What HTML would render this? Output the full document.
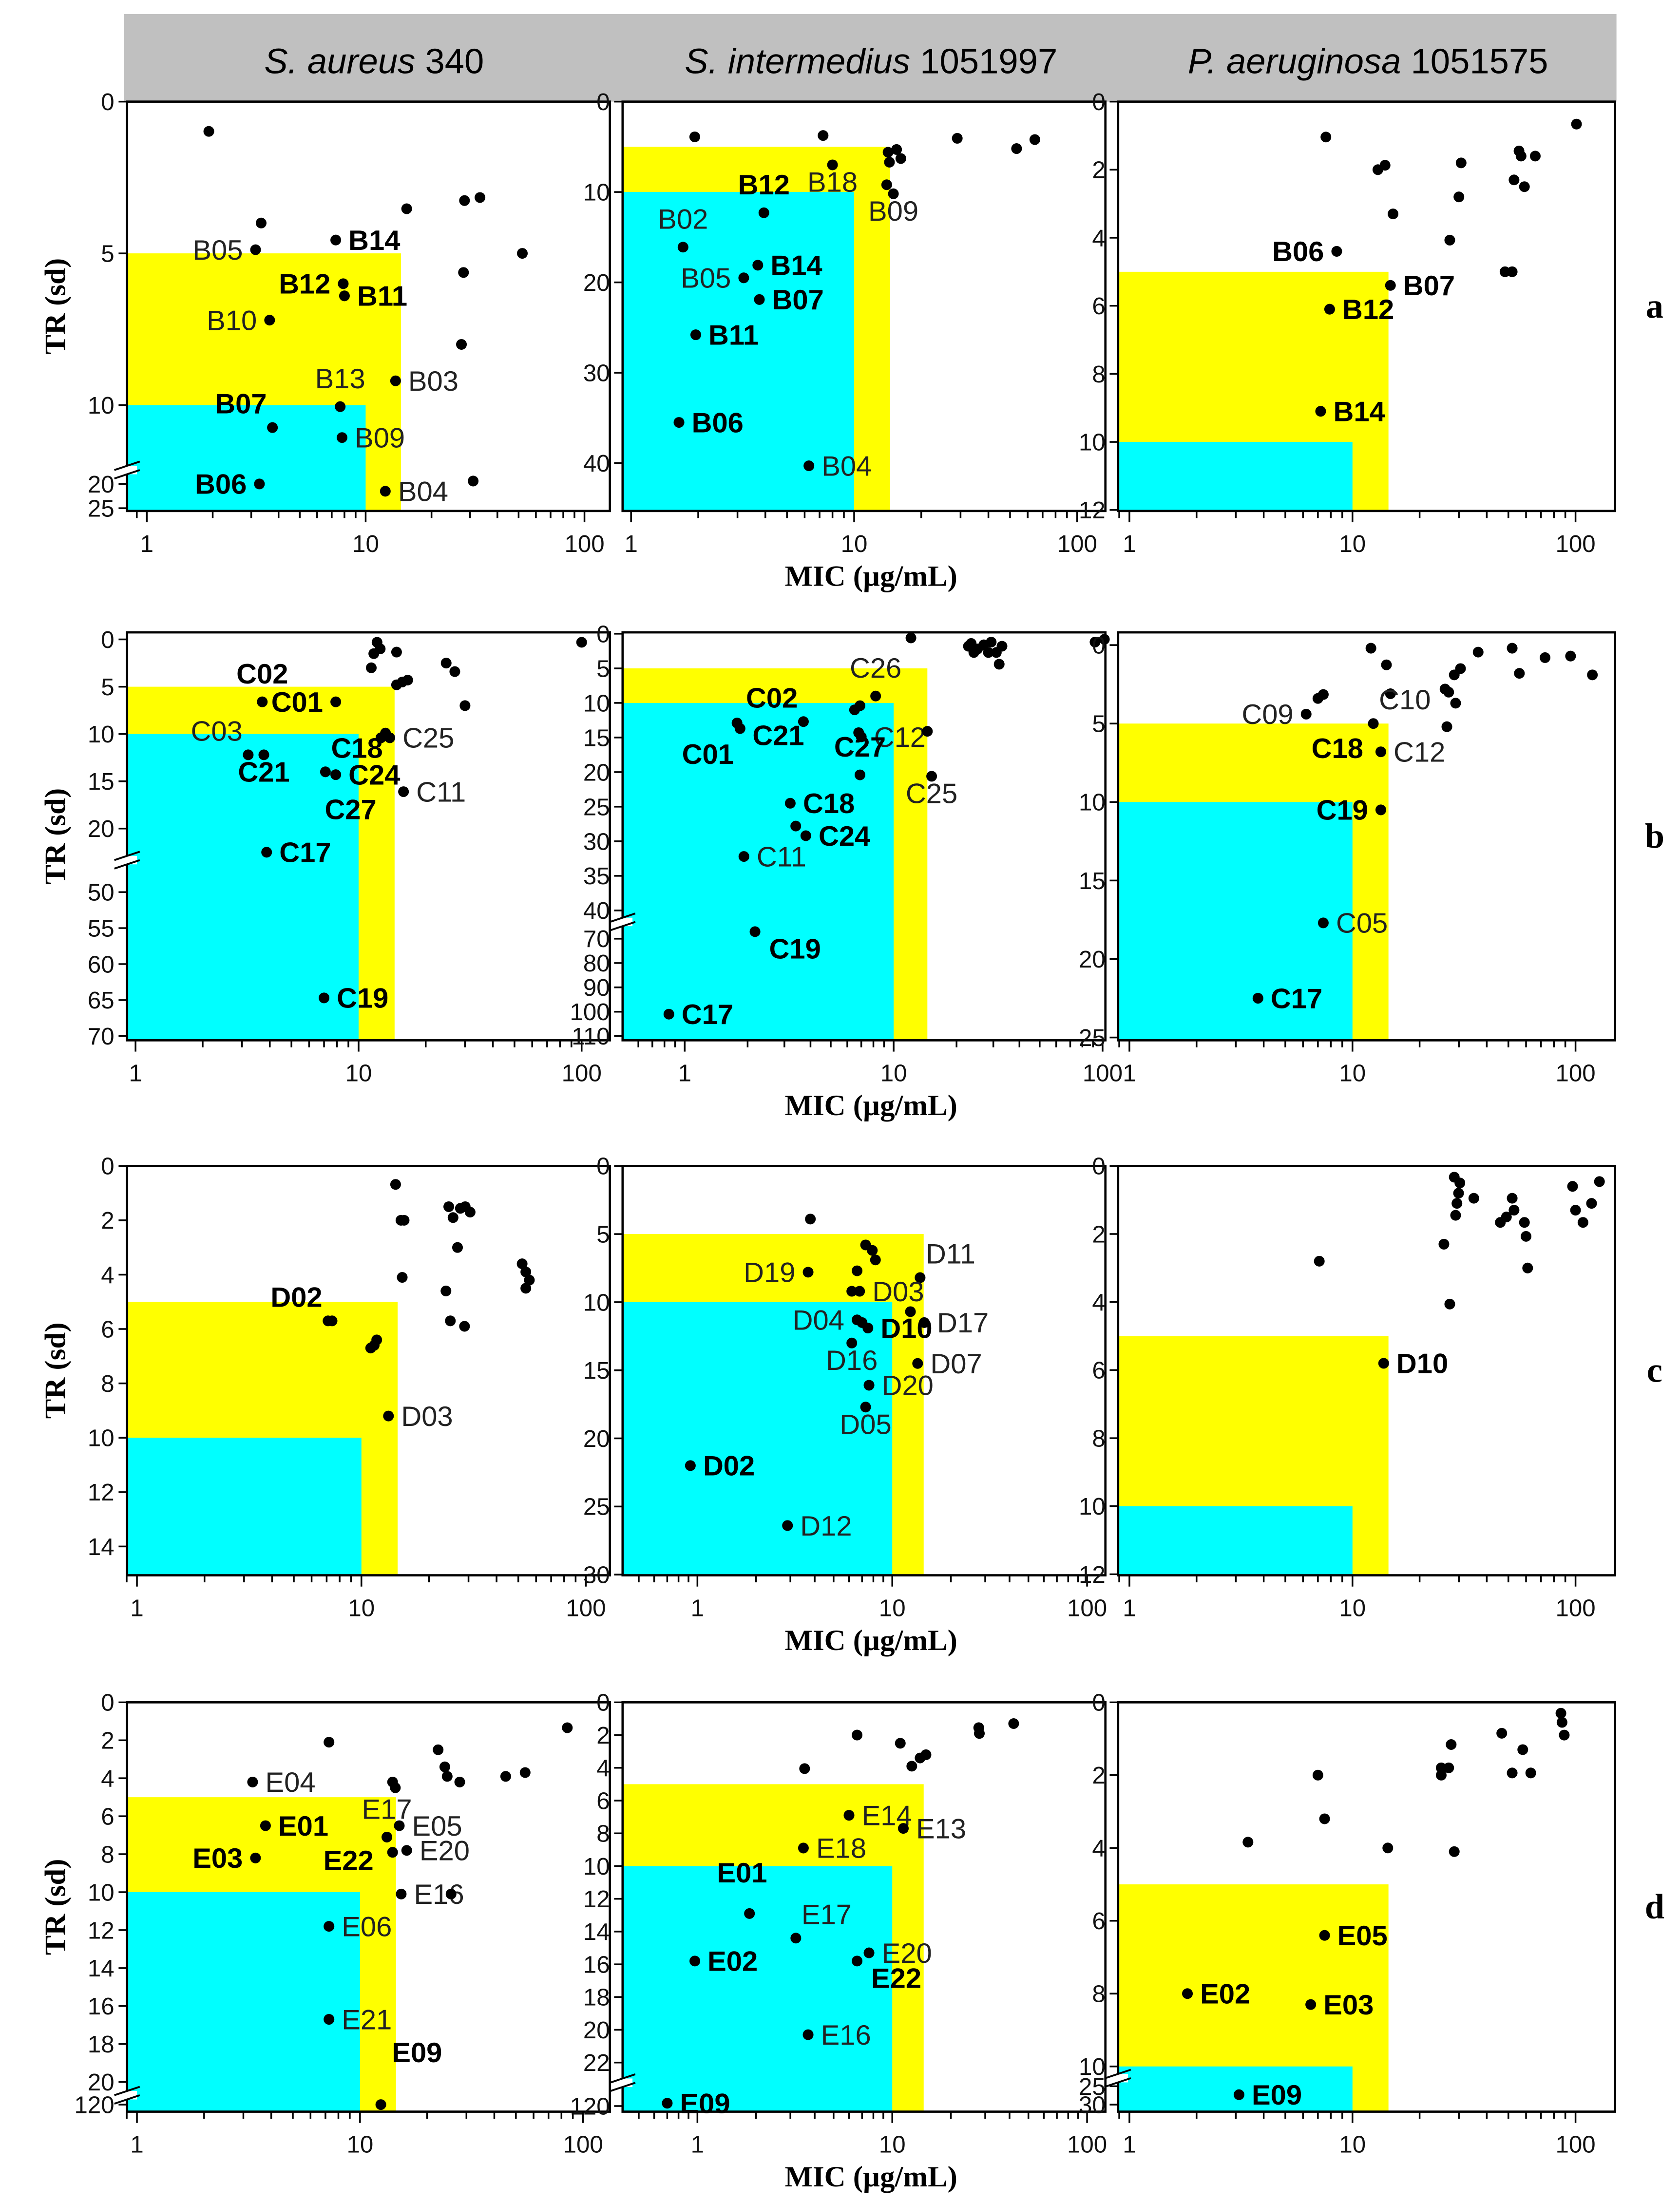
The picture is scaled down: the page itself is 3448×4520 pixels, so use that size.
<!DOCTYPE html>
<html><head><meta charset="utf-8"><style>
html,body{margin:0;padding:0;background:#fff;}
svg{display:block;}
text{font-family:"Liberation Sans",sans-serif;}
</style></head><body>
<svg id="chart" xmlns="http://www.w3.org/2000/svg" width="3448" height="4520" viewBox="0 0 1190 1560" preserveAspectRatio="none">
<rect x="88" y="10" width="1057" height="62" fill="#c0c0c0"/>
<text x="265" y="52" font-size="25" text-anchor="middle"><tspan font-style="italic">S. aureus</tspan> 340</text>
<text x="617" y="52" font-size="25" text-anchor="middle"><tspan font-style="italic">S. intermedius</tspan> 1051997</text>
<text x="969" y="52" font-size="25" text-anchor="middle"><tspan font-style="italic">P. aeruginosa</tspan> 1051575</text>
<g id="plots"></g>
</svg>
<script>
// ---- data (MIC µg/mL, TR sd, label, bold, label side) ----
const pts_a1 = [[1.92,0.98],[3.33,4.0],[3.14,4.88,'B05',0,'l'],[7.3,4.56,'B14',1,'r'],[7.9,6.0,'B12',1,'l'],[8.0,6.4,'B11',1,'r'],[3.64,7.2,'B10',0,'l'],[15.4,3.53],[28.3,3.26],[33.3,3.16],[28,5.63],[52,5.0],[27.4,8.0],[13.7,9.2,'B03',0,'r'],[7.65,10.05,'B13',0,'u'],[3.75,10.74,'B07',1,'ul'],[7.8,11.07,'B09',0,'r'],[3.27,20,'B06',1,'l'],[12.3,21.5,'B04',0,'r'],[31,19.4]];
const pts_a2 = [[1.93,3.9],[7.26,3.75],[29,4.06],[53.5,5.2],[64.6,4.2],[14.2,5.6],[15.5,5.3],[16.2,6.3],[14.4,6.7],[8.0,7.0,'B18',0,'d'],[14,9.2],[15,10.2,'B09',0,'d'],[3.94,12.3,'B12',1,'u'],[1.71,16.1,'B02',0,'u'],[3.7,18.1,'B14',1,'r'],[3.2,19.5,'B05',0,'l'],[3.76,21.9,'B07',1,'r'],[1.95,25.8,'B11',1,'r'],[1.64,35.5,'B06',1,'r'],[6.27,40.3,'B04',0,'r']];
const pts_a3 = [[7.6,1.04],[101,0.66],[55.8,1.45],[57,1.6],[66,1.6],[30.7,1.8],[13,2.0],[14,1.87],[30,2.8],[15.2,3.3],[53,2.3],[59,2.5],[27.3,4.07],[48.3,5.0],[52,5.0],[8.5,4.4,'B06',1,'l'],[14.8,5.4,'B07',1,'r'],[7.9,6.1,'B12',1,'r'],[7.2,9.1,'B14',1,'r']];
const pts_b1 = [[12.1,0.3],[12.5,1.0],[11.7,1.5],[14.8,1.34],[11.4,3.0],[24.7,2.5],[27,3.4],[30,7.0],[14.8,4.8],[15.7,4.5],[16.6,4.3],[3.7,6.6,'C02',1,'u'],[7.9,6.6,'C01',1,'l'],[13.2,9.9],[13.8,10.4,'C25',0,'r'],[12.6,10.4],[3.2,12.2,'C03',0,'ul'],[3.76,12.2,'C21',1,'d'],[7.1,14.0,'C18',1,'ur'],[7.9,14.3,'C24',1,'r'],[15.9,16.1,'C11',0,'r'],[3.87,22.5,'C17',1,'r'],[7.0,64.7,'C19',1,'r'],[100,0.3]];
const pts_b2 = [[12.1,0.6],[22.8,1.8],[24.2,2.7],[23.5,1.4],[25.2,2.2],[27,1.6],[29.3,1.2],[28.4,2.7],[31,2.7],[32,4.4],[33,1.8],[92,1.2],[102,0.8],[8.2,9.0,'C26',0,'u'],[6.9,10.4],[6.5,11],[1.78,12.9],[1.84,13.7],[3.7,12.7,'C02',1,'ul'],[6.8,14.3],[7.0,14.9,'C12',0,'r'],[14.5,14.1],[6.9,20.4,'C27',1,'u'],[15.2,20.6,'C25',0,'d'],[3.2,24.5,'C18',1,'r'],[3.4,27.8],[3.8,29.2,'C24',1,'r'],[1.92,32.2,'C11',0,'r'],[2.17,67.1,'C19',1,'dr'],[0.84,101,'C17',1,'r']];
const pts_b3 = [[12.1,0.2],[14.2,1.26],[36.6,0.45],[52,0.2],[56,1.8],[73,0.8],[95,0.7],[119,1.9],[28.6,1.9],[27,3.0],[29,3.7],[26,2.8],[26.5,5.2],[30.5,1.5],[14.8,3.1],[7.4,3.15],[7.0,3.4],[6.2,4.4,'C09',0,'l'],[12.4,5.0,'C10',0,'ur'],[13.4,6.8,'C12',0,'r'],[13.4,10.5,'C19',1,'l'],[7.4,17.7,'C05',0,'r'],[3.77,22.5,'C17',1,'r']];
const pts_c1 = [[14.2,0.68],[15.5,2.0],[15,2.0],[24.5,1.5],[27.6,1.56],[30.5,1.7],[29,1.5],[25.6,1.9],[26.8,3.0],[15.2,4.1],[23.8,4.6],[24.9,5.7],[28.8,5.9],[52,3.6],[54,3.9],[56,4.2],[54,4.5],[7.1,5.7,'D02',1,'ul'],[7.4,5.7],[11.4,6.6],[11.7,6.4],[11,6.7],[13.2,9.2,'D03',0,'r']];
const pts_c2 = [[3.8,3.9],[7.3,5.8],[7.9,6.2],[8.2,6.9],[3.7,7.8,'D19',0,'l'],[6.6,7.7],[13.9,8.2,'D11',0,'ur'],[6.2,9.2],[6.8,9.2,'D03',0,'r'],[12.4,10.7],[6.6,11.3,'D04',0,'l'],[7.0,11.5],[7.5,11.9,'D10',1,'r'],[14.6,11.5,'D17',0,'r'],[6.2,13.0,'D16',0,'d'],[13.5,14.5,'D07',0,'r'],[7.6,16.1,'D20',0,'r'],[7.3,17.7,'D05',0,'d'],[0.92,22,'D02',1,'r'],[2.9,26.4,'D12',0,'r']];
const pts_c3 = [[28.6,0.33],[30.3,0.5],[29.9,0.8],[29.4,1.1],[29,1.45],[35,0.95],[52,0.95],[53,1.3],[46,1.66],[49,1.5],[59,1.66],[60,2.07],[61,3.0],[97,0.6],[100,1.3],[108,1.66],[118,1.1],[128,0.46],[25.7,2.3],[27.3,4.06],[7.1,2.8],[13.8,5.8,'D10',1,'r']];
const pts_d1 = [[7.26,2.1],[3.3,4.2,'E04',0,'r'],[22.4,2.5],[24,3.4],[24.6,3.9],[28,4.2],[14,4.2],[14.4,4.5],[45,3.9],[55,3.7],[85,1.34],[15,6.5,'E05',0,'r'],[3.77,6.5,'E01',1,'r'],[13.2,7.1,'E17',0,'u'],[14,7.9],[16.2,7.8,'E20',0,'r'],[3.4,8.2,'E03',1,'l'],[15.3,10.1,'E16',0,'r'],[25.6,10.1],[7.26,11.8,'E06',0,'r'],[7.26,16.7,'E21',0,'r'],[12.4,120]];
const pts_d2 = [[3.55,4.05],[6.6,2.0],[11.0,2.5],[12.6,3.9],[13.9,3.4],[14.9,3.2],[27.8,1.55],[28,1.9],[42,1.3],[6.0,6.9,'E14',0,'r'],[3.5,8.9,'E18',0,'r'],[11.4,7.7,'E13',0,'r'],[1.85,12.9],[3.2,14.4,'E17',0,'ur'],[0.97,15.8,'E02',1,'r'],[6.6,15.8,'E22',1,'dr'],[7.6,15.3,'E20',0,'r'],[3.7,20.3,'E16',0,'r'],[0.7,119.5,'E09',1,'r']];
const pts_d3 = [[86,0.3],[87,0.55],[89,0.9],[46.7,0.85],[58,1.3],[52,1.94],[63,1.94],[27.7,1.16],[25,1.8],[27,1.8],[25,2.0],[28.6,4.1],[14.4,4.0],[7.0,2.0],[7.5,3.2],[3.4,3.84],[7.5,6.4,'E05',1,'r'],[1.82,8.0,'E02',1,'r'],[6.5,8.3,'E03',1,'r'],[3.1,27.3,'E09',1,'r']];
// free labels [text, MIC, TR, bold]
const lab_b1 = [['C27',7.05,19,1]];
const lab_b2 = [['C21',2.11,16.1,1],['C01',0.97,18.8,1]];
const lab_b3 = [['C18',6.55,7.2,1]];
const lab_d1 = [['E22',6.85,8.85,1],['E09',13.9,18.96,1]];
const lab_d2 = [['E01',1.26,11.0,1]];
// tick values
const xTicks = [1,10,100];
const yt_a1=[0,5,10,20,25], yt_a2=[0,10,20,30,40], yt_a3=[0,2,4,6,8,10,12];
const yt_b1=[0,5,10,15,20,50,55,60,65,70], yt_b2=[0,5,10,15,20,25,30,35,40,70,80,90,100,110], yt_b3=[0,5,10,15,20,25];
const yt_c1=[0,2,4,6,8,10,12,14], yt_c2=[0,5,10,15,20,25,30], yt_c3=[0,2,4,6,8,10,12];
const yt_d1=[0,2,4,6,8,10,12,14,16,18,20,120], yt_d2=[0,2,4,6,8,10,12,14,16,18,20,22,120], yt_d3=[0,2,4,6,8,10,25,30];
const yellowMIC = 14.5, cyanMIC = 10, yellowTR = 5, cyanTR = 10;

// ---- layout ----
const colX=[[90,432],[441,783],[792,1144]];
const rowY=[[72,362],[448,737],[826,1116],[1206,1496]];
const panels=[
 {r:0,c:0,pts:pts_a1,lab:[],yt:yt_a1,x1:104,dec:155,seg:[[0,12,72,330],[18,25,336,360]]},
 {r:0,c:1,pts:pts_a2,lab:[],yt:yt_a2,x1:447,dec:158,seg:[[0,45.3,72,362]]},
 {r:0,c:2,pts:pts_a3,lab:[],yt:yt_a3,x1:800,dec:158,seg:[[0,12.03,72,362]]},
 {r:1,c:0,pts:pts_b1,lab:lab_b1,yt:yt_b1,x1:96,dec:158,seg:[[0,23,453,607.1],[46,70,611.6,734]]},
 {r:1,c:1,pts:pts_b2,lab:lab_b2,yt:yt_b2,x1:485,dec:148,seg:[[0,41,449,649.9],[65,110,656.4,734]]},
 {r:1,c:2,pts:pts_b3,lab:lab_b3,yt:yt_b3,x1:800,dec:158,seg:[[0,25,457,735]]},
 {r:2,c:0,pts:pts_c1,lab:[],yt:yt_c1,x1:97,dec:159,seg:[[0,15.06,826,1116]]},
 {r:2,c:1,pts:pts_c2,lab:[],yt:yt_c2,x1:494,dec:138,seg:[[0,30.05,826,1116]]},
 {r:2,c:2,pts:pts_c3,lab:[],yt:yt_c3,x1:800,dec:158,seg:[[0,12.03,826,1116]]},
 {r:3,c:0,pts:pts_d1,lab:lab_d1,yt:yt_d1,x1:97,dec:158,seg:[[0,20.5,1206,1481.7],[119,122,1487,1499]]},
 {r:3,c:1,pts:pts_d2,lab:lab_d2,yt:yt_d2,x1:494,dec:138,seg:[[0,22.5,1206,1467],[118,122,1484,1500]]},
 {r:3,c:2,pts:pts_d3,lab:[],yt:yt_d3,x1:800,dec:158,seg:[[0,10.3,1206,1471.7],[23,31,1472.8,1493.6]]}
];
const OFF={r:[9,7,'start'],l:[-9,7,'end'],u:[0,-13,'middle'],d:[0,19,'middle'],ul:[-4,-10,'end'],ur:[4,-10,'start'],dr:[10,19,'start'],dl:[-6,19,'end']};
const NS='http://www.w3.org/2000/svg';
const root=document.getElementById('plots');
function el(tag,attrs,parent){const e=document.createElementNS(NS,tag);for(const k in attrs)e.setAttribute(k,attrs[k]);(parent||root).appendChild(e);return e;}
const rowLetters=['a','b','c','d'];

panels.forEach((p,pi)=>{
 const [L,R]=colX[p.c],[T,B]=rowY[p.r];
 const xs=v=>p.x1+Math.log10(v)*p.dec;
 const ys=v=>{let s=p.seg[0];for(const g of p.seg){if(v>=g[0]-0.001&&v<=g[1]+0.001){s=g;break;} if(v>g[1])s=g;}return s[2]+(v-s[0])*(s[3]-s[2])/(s[1]-s[0]);};
 const g=el('g',{});
 
 
 // regions
 const yl=Math.min(xs(yellowMIC),R);
 const yr=el('rect',{x:L,y:ys(yellowTR),width:yl-L,height:B-ys(yellowTR),fill:'#ffff00'},g);
 
 
 const cr=el('rect',{x:L,y:ys(cyanTR),width:xs(cyanMIC)-L,height:B-ys(cyanTR),fill:'#00ffff'},g);
 
 
 // frame
 const fr=el('rect',{x:L,y:T,width:R-L,height:B-T,fill:'none',stroke:'#000','stroke-width':1.6},g);
 
 
 // x ticks
 for(let k=-1;k<=2;k++){for(let m=1;m<10;m++){const v=m*Math.pow(10,k);const x=xs(v);if(x<L-0.5||x>R+0.5)continue;
   const t=el('line',{x1:x,x2:x,y1:B,y2:B+(m===1?8:5),stroke:'#000','stroke-width':1.2},g);
   
   }}
 xTicks.forEach(v=>{const x=xs(v);if(x<L-6||x>R+6)return;
   const t=el('text',{x:x,y:B+29,'font-size':17,'text-anchor':'middle',fill:'#111'},g);t.textContent=String(v);
   
   });
 // y ticks
 p.yt.forEach(v=>{const y=ys(v);
   const t=el('line',{x1:L-6,x2:L,y1:y,y2:y,stroke:'#000','stroke-width':1.2},g);
   
   
   const tl=el('text',{x:L-9,y:y+6,'font-size':17,'text-anchor':'end',fill:'#111'},g);tl.textContent=String(v);
   
   });
 // axis break
 if(p.seg.length>1){const yb=(p.seg[0][3]+p.seg[1][2])/2;
   const w=el('rect',{x:L-7,y:yb-3,width:14,height:6,fill:'#fff'},g);
   
   
   [-3,3].forEach(d=>{const b=el('line',{x1:L-9,x2:L+9,y1:yb+d+3,y2:yb+d-3,stroke:'#000','stroke-width':1.3},g);
     
     });}
 // points
 p.pts.forEach(q=>{const cx=xs(q[0]),cy=ys(q[1]);
   const c=el('circle',{cx:cx,cy:cy,r:3.8,fill:'#000'},g);
   
   
   if(q[2]){const o=OFF[q[4]||'r'];
     const t=el('text',{x:cx+o[0],y:cy+o[1],'font-size':20,'text-anchor':o[2],'font-weight':q[3]?'bold':'normal',fill:q[3]?'#000':'#222'},g);
     t.textContent=q[2];
     
     }});
 p.lab.forEach(q=>{const t=el('text',{x:xs(q[1]),y:ys(q[2]),'font-size':20,'font-weight':q[3]?'bold':'normal'},g);
   t.textContent=q[0];
   
   });
 if(p.c===0){const cyT=(T+B)/2;
   const yt=el('text',{x:0,y:0,transform:'translate(46,'+cyT+') rotate(-90)','font-size':21,'font-weight':'bold','text-anchor':'middle',style:'font-family:"Liberation Serif",serif'},g);
   yt.textContent='TR (sd)';
   
   }
 if(p.c===1){const xt=el('text',{x:617,y:B+53,'font-size':21,'font-weight':'bold','text-anchor':'middle',style:'font-family:"Liberation Serif",serif'},g);
   xt.textContent='MIC (µg/mL)';
   
   }
 if(p.c===2){const rl=el('text',{x:1172,y:(T+B)/2+8,'font-size':25,'font-weight':'bold','text-anchor':'middle',style:'font-family:"Liberation Serif",serif'},g);
   rl.textContent=rowLetters[p.r];
   
   }
});
</script>
</body></html>
